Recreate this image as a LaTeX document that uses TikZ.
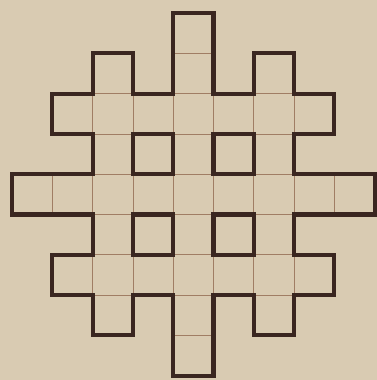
\documentclass[tikz,border=0pt]{standalone}
\definecolor{paper}{RGB}{217,203,178}
\definecolor{ink}{RGB}{58,38,32}
\definecolor{faint}{RGB}{160,125,100}
\tikzset{
  thickline/.style={draw=ink, line width=2.9pt, line join=miter},
  thinline/.style={draw=faint, line width=0.55pt}
}
\begin{document}
\begin{tikzpicture}[x=1cm,y=1cm]
\fill[paper] (-0.298,0.323) rectangle (9.057,-9.107);
\useasboundingbox (-0.298,0.323) rectangle (9.057,-9.107);
\def\outline{(4,0) -- (5,0) -- (5,-2) -- (6,-2) -- (6,-1) -- (7,-1) -- (7,-2) -- (8,-2) -- (8,-3) -- (7,-3) -- (7,-4) -- (9,-4) -- (9,-5) -- (7,-5) -- (7,-6) -- (8,-6) -- (8,-7) -- (7,-7) -- (7,-8) -- (6,-8) -- (6,-7) -- (5,-7) -- (5,-9) -- (4,-9) -- (4,-7) -- (3,-7) -- (3,-8) -- (2,-8) -- (2,-7) -- (1,-7) -- (1,-6) -- (2,-6) -- (2,-5) -- (0,-5) -- (0,-4) -- (2,-4) -- (2,-3) -- (1,-3) -- (1,-2) -- (2,-2) -- (2,-1) -- (3,-1) -- (3,-2) -- (4,-2) -- cycle}
\begin{scope}
  \clip \outline;
  \draw[thinline, step=1] (0,0) grid (9,-9);
\end{scope}
\draw[thickline] \outline;
\draw[thickline] (3,-3) rectangle (4,-4);
\draw[thickline] (5,-3) rectangle (6,-4);
\draw[thickline] (3,-5) rectangle (4,-6);
\draw[thickline] (5,-5) rectangle (6,-6);
\end{tikzpicture}
\end{document}
